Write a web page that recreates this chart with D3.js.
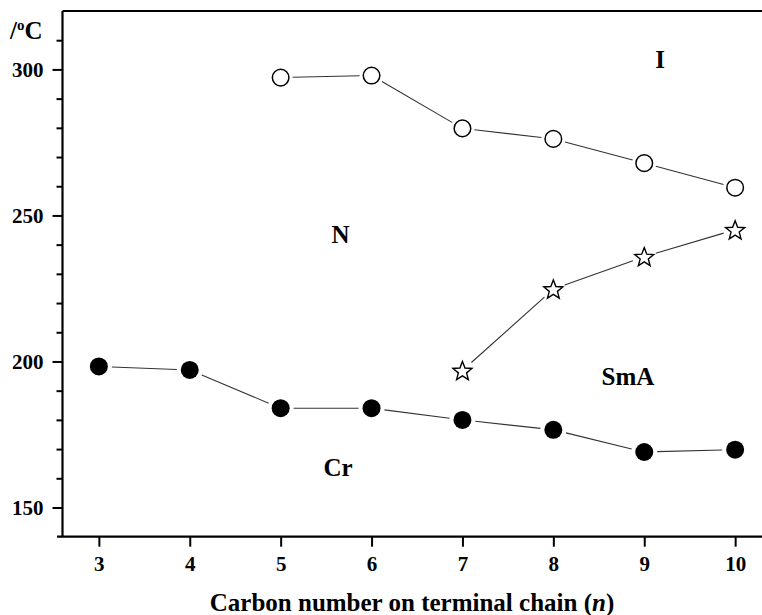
<!DOCTYPE html>
<html lang="en">
<head>
<meta charset="UTF-8">
<script src="https://d3js.org/d3.v7.min.js"></script>
<style>
  body { margin: 0; background: #fff; }
  svg text { font-family: "Liberation Serif", "Times New Roman", serif !important; font-weight: bold; fill: #000; }
</style>
</head>
<body>
<svg id="chart" width="762" height="615"></svg>
<script>
// data
const carbon = [3, 4, 5, 6, 7, 8, 9, 10];
const crystalTemp = [198.3, 197.1, 184.0, 184.0, 180.0, 176.6, 169.0, 169.8];
const smecticCarbon = [7, 8, 9, 10];
const smecticTemp = [196.9, 224.8, 235.9, 245.1];
const isoCarbon = [5, 6, 7, 8, 9, 10];
const isoTemp = [297.2, 297.9, 279.8, 276.2, 267.9, 259.5];
const yMajor = [150, 200, 250, 300];
const yMinor = [160, 170, 180, 190, 210, 220, 230, 240, 260, 270, 280, 290, 310];
const phaseLabels = [
  { text: "I", n: 9.12, t: 300.5 },
  { text: "N", n: 5.56, t: 240.5 },
  { text: "SmA", n: 8.53, t: 192 },
  { text: "Cr", n: 5.47, t: 160.8 }
];

const svg = d3.select("svg#chart");
const plotLeft = 62.5, plotTop = 11, plotBottom = 536.7;

const x = d3.scaleLinear().domain([2.6, 10.4]).range([plotLeft, 771.5]);
const y = d3.scaleLinear().domain([140, 320]).range([plotBottom, plotTop]);

// frame
svg.append("line").attr("x1", plotLeft).attr("x2", 762).attr("y1", plotTop).attr("y2", plotTop)
  .attr("stroke", "#000").attr("stroke-width", 2);
svg.append("line").attr("x1", plotLeft).attr("x2", plotLeft).attr("y1", plotTop).attr("y2", plotBottom)
  .attr("stroke", "#000").attr("stroke-width", 2.2);
svg.append("line").attr("x1", 57).attr("x2", 762).attr("y1", plotBottom).attr("y2", plotBottom)
  .attr("stroke", "#000").attr("stroke-width", 2.2);

// x axis
const xAxis = svg.append("g")
  .attr("transform", `translate(0,${plotBottom})`)
  .call(d3.axisBottom(x).tickValues(carbon).tickSize(10).tickSizeOuter(0).tickPadding(9).tickFormat(d3.format("d")))
  .attr("font-family", "Liberation Serif, serif").attr("font-size", 21);
xAxis.select(".domain").remove();
xAxis.selectAll("line").attr("stroke", "#000").attr("stroke-width", 2);

// y axis, major and minor ticks
const yAxis = svg.append("g")
  .attr("transform", `translate(${plotLeft},0)`)
  .call(d3.axisLeft(y).tickValues(yMajor).tickSize(10).tickPadding(9).tickFormat(d3.format("d")))
  .attr("font-family", "Liberation Serif, serif").attr("font-size", 21);
yAxis.select(".domain").remove();
yAxis.selectAll("line").attr("stroke", "#000").attr("stroke-width", 2);

const yMinorAxis = svg.append("g")
  .attr("transform", `translate(${plotLeft},0)`)
  .call(d3.axisLeft(y).tickValues(yMinor).tickSize(6).tickFormat(""));
yMinorAxis.select(".domain").remove();
yMinorAxis.selectAll("line").attr("stroke", "#000").attr("stroke-width", 2);

// axis titles
svg.append("text").attr("x", 412).attr("y", 611).attr("text-anchor", "middle").attr("font-size", 25)
  .call(t => {
    t.append("tspan").text("Carbon number on terminal chain (");
    t.append("tspan").attr("font-style", "italic").text("n");
    t.append("tspan").text(")");
  });
svg.append("text").attr("x", 10).attr("y", 39).attr("font-size", 25)
  .call(t => {
    t.append("tspan").text("/");
    t.append("tspan").attr("font-size", 15).attr("dy", -9).text("o");
    t.append("tspan").attr("dy", 9).text("C");
  });

// connecting lines that stop short of the markers
function drawLinks(xs, ts, gap) {
  const pts = xs.map((d, i) => [x(d), y(ts[i])]);
  const segs = d3.pairs(pts).map(([a, b]) => {
    const dx = b[0] - a[0], dy = b[1] - a[1], len = Math.hypot(dx, dy);
    const ux = dx / len, uy = dy / len;
    return [[a[0] + ux * gap, a[1] + uy * gap], [b[0] - ux * gap, b[1] - uy * gap]];
  });
  svg.append("g").selectAll("line").data(segs).join("line")
    .attr("x1", d => d[0][0]).attr("y1", d => d[0][1])
    .attr("x2", d => d[1][0]).attr("y2", d => d[1][1])
    .attr("stroke", "#333").attr("stroke-width", 1.1);
}
drawLinks(carbon, crystalTemp, 13);
drawLinks(smecticCarbon, smecticTemp, 12);
drawLinks(isoCarbon, isoTemp, 12);

// markers
svg.append("g").selectAll("circle").data(carbon).join("circle")
  .attr("cx", d => x(d)).attr("cy", (d, i) => y(crystalTemp[i])).attr("r", 9)
  .attr("fill", "#000");

svg.append("g").selectAll("circle").data(isoCarbon).join("circle")
  .attr("cx", d => x(d)).attr("cy", (d, i) => y(isoTemp[i])).attr("r", 8.3)
  .attr("fill", "#fff").attr("stroke", "#000").attr("stroke-width", 1.5);

function starPath(ro, ri) {
  const p = d3.path();
  for (let k = 0; k < 10; k++) {
    const r = k % 2 ? ri : ro, a = -Math.PI / 2 + k * Math.PI / 5;
    k ? p.lineTo(r * Math.cos(a), r * Math.sin(a)) : p.moveTo(r * Math.cos(a), r * Math.sin(a));
  }
  p.closePath();
  return p.toString();
}
svg.append("g").selectAll("path").data(smecticCarbon).join("path")
  .attr("transform", (d, i) => `translate(${x(d)},${y(smecticTemp[i]) + 1})`)
  .attr("d", starPath(10, 4.3))
  .attr("fill", "#fff").attr("stroke", "#000").attr("stroke-width", 1.4);

// phase labels
svg.append("g").selectAll("text").data(phaseLabels).join("text")
  .attr("x", d => x(d.n)).attr("y", d => y(d.t))
  .attr("font-size", 25)
  .text(d => d.text);
</script>
</body>
</html>
